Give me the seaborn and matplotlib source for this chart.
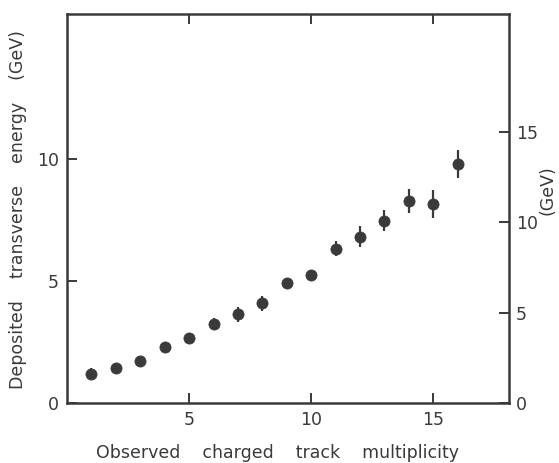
import numpy as np
import pandas as pd
import matplotlib
matplotlib.use("Agg")
import matplotlib.pyplot as plt
import seaborn as sns

multiplicity = [1, 2, 3, 4, 5, 6, 7, 8, 9, 10, 11, 12, 13, 14, 15, 16]
energy = [1.19, 1.45, 1.73, 2.31, 2.65, 3.24, 3.63, 4.09, 4.91, 5.23, 6.32, 6.82, 7.47, 8.27, 8.16, 9.78]
energy_err = [0.25, 0.2, 0.2, 0.2, 0.2, 0.25, 0.3, 0.3, 0.2, 0.2, 0.3, 0.44, 0.42, 0.48, 0.58, 0.58]
x_ticks = [5, 10, 15]
left_ticks = [0, 5, 10]
right_ticks = [0, 5, 10, 15]

df = pd.DataFrame({"mult": multiplicity, "et": energy, "err": energy_err})

sns.set_style("ticks")
plt.rcParams["font.family"] = ["DejaVu Sans"]

ink = "#3a3a3a"
W, H = 559, 463
fig = plt.figure(figsize=(W / 100, H / 100), dpi=100)
ax = fig.add_axes([67 / W, 1 - 403 / H, (509 - 67) / W, (403 - 14) / H])

ax.errorbar(df["mult"], df["et"], yerr=df["err"], fmt="none", ecolor=ink,
            elinewidth=1.6, capsize=0, zorder=2)
sns.scatterplot(data=df, x="mult", y="et", ax=ax, color=ink, s=65,
                edgecolor=ink, linewidth=0.5, zorder=3, legend=False)

ax.set_xlim(0, 18.1)
ax.set_ylim(0, 15.94)
ax.set_xticks(x_ticks)
ax.set_yticks(left_ticks)
ax.tick_params(direction="in", length=7, width=1.4, colors=ink, labelsize=12.5,
               top=True, labeltop=False, pad=6)
ax.tick_params(axis="y", right=False)
for s in ax.spines.values():
    s.set_visible(True)
    s.set_linewidth(1.8)
    s.set_color(ink)
ax.set_xlabel("Observed    charged    track    multiplicity", fontsize=12.5,
              color=ink)
ax.set_ylabel("Deposited    transverse    energy    (GeV)", fontsize=12.5,
              color=ink)
ax.xaxis.set_label_coords((278 - 67) / (509 - 67), -(444 - 403) / (403 - 14))
ax.yaxis.set_label_coords(-(67 - 27) / (509 - 67), (403 - 210) / (403 - 14))

ax2 = ax.twinx()
ax2.set_ylim(0, 15.94 * 1.35)
ax2.set_yticks(right_ticks)
ax2.tick_params(direction="in", length=7, width=1.4, colors=ink, labelsize=12.5, pad=5)
for s in ax2.spines.values():
    s.set_visible(False)
ax2.set_ylabel("")
fig.text(548 / W, 1 - 190 / H, "(GeV)", rotation=90, ha="center", va="center",
         fontsize=12.5, color=ink)

fig.savefig("out.png", dpi=100, facecolor="white")
